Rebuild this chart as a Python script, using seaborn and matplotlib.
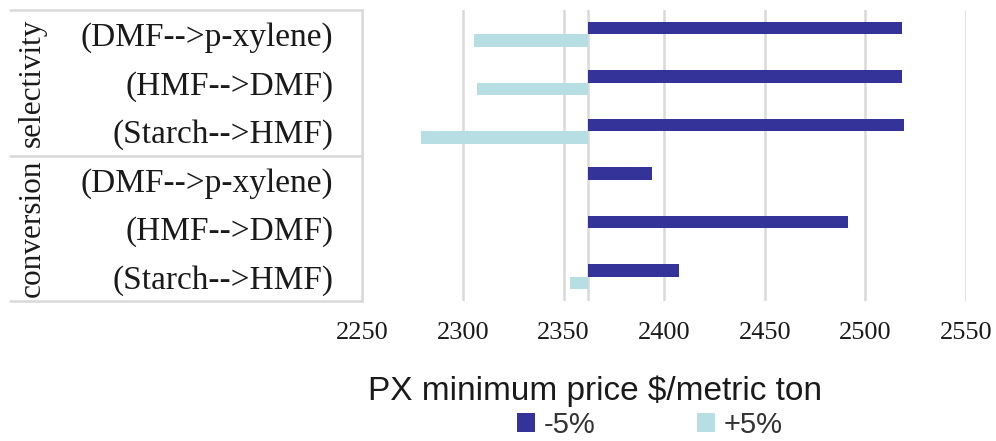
import numpy as np
import pandas as pd
import matplotlib
matplotlib.use("Agg")
import matplotlib.pyplot as plt
from matplotlib.lines import Line2D
import seaborn as sns

# ---- data -------------------------------------------------------------
GROUPS = ["selectivity", "conversion"]
STEPS = ["(DMF-->p-xylene)", "(HMF-->DMF)", "(Starch-->HMF)"]
SCENARIOS = ["-5%", "+5%"]
BASE_PRICE = 2362  # base-case PX minimum price, $/metric ton

# PX minimum price for each step, per group, for the -5% and +5% cases
MINUS5 = {
    "selectivity": [2518, 2518, 2519],
    "conversion": [2394, 2491.5, 2407.5],
}
PLUS5 = {
    "selectivity": [2305.5, 2307, 2279],
    "conversion": [2362, 2362, 2353],
}
TICKS = [2250, 2300, 2350, 2400, 2450, 2500, 2550]
COLORS = {"-5%": "#333399", "+5%": "#B7DEE2"}

# ---- long table -------------------------------------------------------
rows = []
for g in GROUPS:
    for i, step in enumerate(STEPS):
        key = f"{g}|{step}"
        rows.append({"row": key, "scenario": "-5%", "price": MINUS5[g][i]})
        rows.append({"row": key, "scenario": "+5%", "price": PLUS5[g][i]})
df = pd.DataFrame(rows)
df["delta"] = df["price"] - BASE_PRICE
row_order = [f"{g}|{s}" for g in GROUPS for s in STEPS]

# ---- figure -----------------------------------------------------------
sns.set_theme(style="white")
SERIF = "Liberation Serif"
SANS = "Liberation Sans"
GRID = "#D9D9D9"
INK = "#1a1a1a"

W, H = 996, 441
fig = plt.figure(figsize=(W / 100, H / 100), dpi=100)
x0, x1, y_top, y_bot = 362.4, 966, 10, 301
ax = fig.add_axes([x0 / W, 1 - y_bot / H, (x1 - x0) / W, (y_bot - y_top) / H])

sns.barplot(
    data=df, x="delta", y="row", hue="scenario",
    order=row_order, hue_order=SCENARIOS, palette=COLORS, saturation=1,
    orient="h", width=0.52, errorbar=None, linewidth=0, ax=ax,
)

# bars grow out of the base price; axis labelled in absolute $/t
ax.set_xlim(TICKS[0] - BASE_PRICE, TICKS[-1] - BASE_PRICE)
ax.set_xticks(np.array(TICKS) - BASE_PRICE)
ax.set_xticklabels([str(t) for t in TICKS], family=SERIF, fontsize=19)
ax.set_yticks(range(len(row_order)))
ax.set_yticklabels([r.split("|")[1] for r in row_order], family=SERIF, fontsize=24)
ax.set_ylim(len(row_order) - 0.5, -0.5)
ax.tick_params(axis="x", length=0, pad=15, colors=INK)
ax.tick_params(axis="y", length=0, pad=21, colors=INK)
ax.set_xlabel("")
ax.set_ylabel("")

ax.grid(axis="x", color=GRID, lw=1.8)
ax.set_axisbelow(True)
ax.axvline(0, color=GRID, lw=1.8, zorder=0.5)
for side in ("top", "right", "bottom"):
    ax.spines[side].set_visible(False)
ax.spines["left"].set_color(GRID)
ax.spines["left"].set_linewidth(1.8)

# category table rules on the left
mid = (y_top + y_bot) / 2
for yy in (y_top, mid, y_bot):
    fig.add_artist(Line2D([10 / W, x0 / W], [1 - yy / H, 1 - yy / H],
                          color=GRID, lw=1.8, transform=fig.transFigure))

# group labels
for g, (ya, yb) in zip(GROUPS, [(y_top, mid), (mid, y_bot)]):
    fig.text(32 / W, 1 - (ya + yb) / 2 / H, g, rotation=90, ha="center",
             va="center", family=SERIF, fontsize=22.5, color=INK)

# axis title
fig.text(595 / W, 1 - 391 / H, "PX minimum price $/metric ton", ha="center",
         va="center", family=SANS, fontsize=24, color=INK)

# legend
handles, labels = ax.get_legend_handles_labels()
ax.legend_.remove()
fig.legend(handles, labels, ncol=2, loc="center",
           bbox_to_anchor=(650 / W, 1 - 425 / H), frameon=False,
           prop={"family": SANS, "size": 21}, handlelength=0.6,
           handleheight=0.6, handletextpad=0.3, columnspacing=3.5,
           labelcolor="#333333", borderpad=0.1)

fig.savefig("out.png", dpi=100)
